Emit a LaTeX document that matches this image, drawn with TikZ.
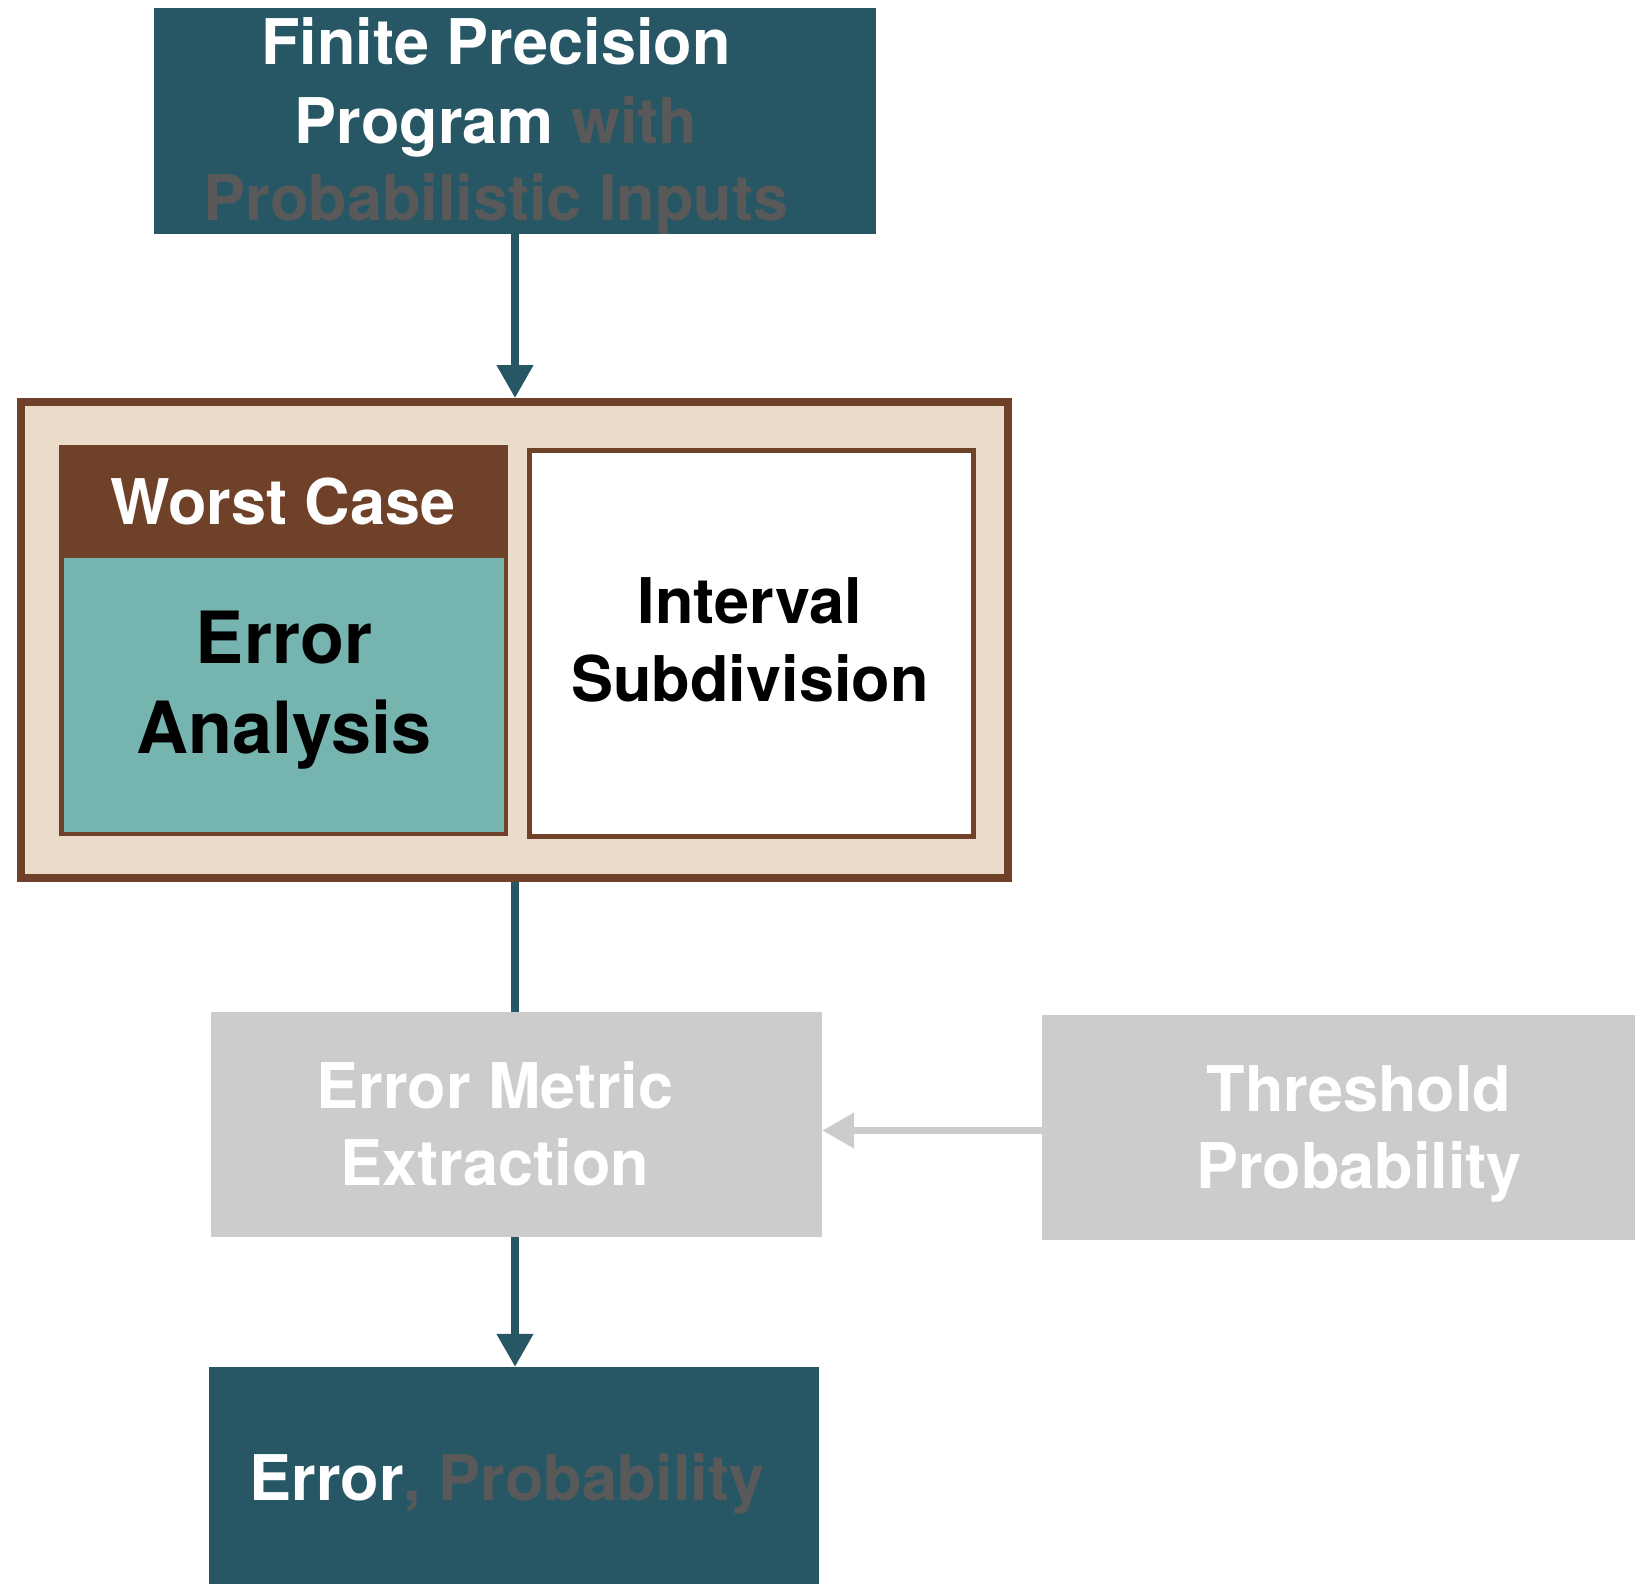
\documentclass[tikz,border=0pt]{standalone}
\usepackage{fontspec}
\setmainfont{TeX Gyre Heros}
\usetikzlibrary{arrows.meta}

\definecolor{petrol}{HTML}{275765}
\definecolor{slate}{HTML}{595959}
\definecolor{bark}{HTML}{6F4129}
\definecolor{sand}{HTML}{E9DCCB}
\definecolor{seafoam}{HTML}{76B4AF}
\definecolor{mist}{HTML}{CCCCCC}

\tikzset{
  block/.style={rectangle, inner sep=0pt},
  darkblock/.style={block, fill=petrol},
  greyblock/.style={block, fill=mist},
  label/.style={anchor=base, inner sep=0pt, font=\bfseries\fontsize{63}{63}\selectfont},
  biglabel/.style={label, font=\bfseries\fontsize{72}{72}\selectfont},
  flow/.style={draw=petrol, line width=7.5pt, -{Triangle[width=35pt,length=33pt]}},
  plainflow/.style={draw=petrol, line width=7.5pt},
  feed/.style={draw=mist, line width=7.5pt, -{Triangle[width=34pt,length=32pt]}},
}

\begin{document}
\begin{tikzpicture}[x=1pt, y=-1pt]
\useasboundingbox (0,0) rectangle (1635,1584);

% input program
\node[darkblock, minimum width=722pt, minimum height=226pt] (prog) at (515,121) {};
\node[label, text=white] (prog1) at (496,65) {Finite Precision};
\node[label, text=white] (prog2) at (496,143) {Program \textcolor{slate}{with}};
\node[label, text=slate] (prog3) at (496,220) {Probabilistic Inputs};

% analysis frame
\node[block, draw=bark, line width=8pt, fill=sand, minimum width=987pt, minimum height=476pt] (frame) at (514.5,640) {};

% worst case error analysis: brown panel with a teal body inset
\node[block, fill=bark, minimum width=449pt, minimum height=391pt] (worst) at (283.5,640.5) {};
\node[block, fill=seafoam, minimum width=440pt, minimum height=273.5pt] (erran) at (283.5,694.75) {};
\node[label, text=white] (worsttxt) at (283,524) {Worst Case};
\node[biglabel] (err1) at (284,663) {Error};
\node[biglabel] (err2) at (284,753) {Analysis};

% interval subdivision
\node[block, fill=white, draw=bark, line width=5pt, minimum width=444pt, minimum height=386pt] (subdiv) at (751.5,643.5) {};
\node[label] (sub1) at (750,623) {Interval};
\node[label] (sub2) at (750,701) {Subdivision};

% error metric extraction
\node[greyblock, minimum width=611pt, minimum height=225pt] (metric) at (516.5,1124.5) {};
\node[label, text=white] (met1) at (495,1108) {Error Metric};
\node[label, text=white] (met2) at (495,1185) {Extraction};

% threshold probability
\node[greyblock, minimum width=600pt, minimum height=225pt] (thresh) at (1342,1127.5) {};
\node[label, text=white] (thr1) at (1359,1111) {Threshold};
\node[label, text=white] (thr2) at (1359,1188) {Probability};

% result
\node[darkblock, minimum width=610pt, minimum height=223pt] (result) at (514,1478.5) {};
\node[label, text=white] (res) at (507,1500) {Error\textcolor{slate}{, Probability}};

% connectors
\coordinate (feedrow) at (0,1130.5);
\draw[flow] (prog.south) -- (prog.south |- frame.north);
\draw[plainflow] (frame.south -| 515,0) -- (metric.north -| 515,0);
\draw[flow] (metric.south -| 515,0) -- (result.north -| 515,0);
\draw[feed] (thresh.west |- feedrow) -- (metric.east |- feedrow);
\end{tikzpicture}
\end{document}
